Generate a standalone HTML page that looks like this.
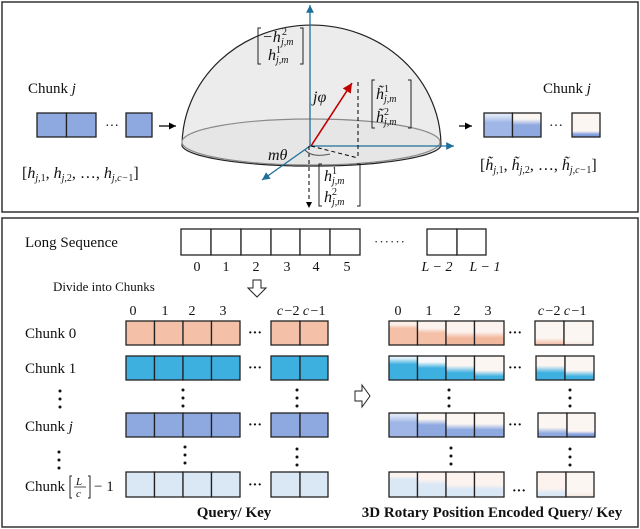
<!DOCTYPE html>
<html><head><meta charset="utf-8"><style>
html,body{margin:0;padding:0;background:#fff}
svg{display:block}
text{font-family:"Liberation Serif",serif;fill:#111}
.i{font-style:italic}
</style></head><body>
<svg width="640" height="529" viewBox="0 0 640 529" xmlns="http://www.w3.org/2000/svg">
<defs>
<marker id="ab" markerWidth="8" markerHeight="8" refX="6" refY="3" orient="auto"><path d="M0,0 L6,3 L0,6 z" fill="#1f6f9a"/></marker>
<marker id="ar" markerWidth="8" markerHeight="8" refX="6" refY="3" orient="auto"><path d="M0,0 L6,3 L0,6 z" fill="#c00000"/></marker>
<marker id="ak" markerWidth="8" markerHeight="8" refX="6" refY="3" orient="auto"><path d="M0,0 L6,3 L0,6 z" fill="#000"/></marker>
<linearGradient id="o1" x1="0" y1="0" x2="0" y2="1"><stop offset="0.15" stop-color="#fcefe8"/><stop offset="0.3" stop-color="#f4c0a8"/></linearGradient>
<linearGradient id="o2" x1="0" y1="0" x2="0" y2="1"><stop offset="0.3" stop-color="#fcf3ee"/><stop offset="0.5" stop-color="#f4c0a8"/></linearGradient>
<linearGradient id="o3" x1="0" y1="0" x2="0" y2="1"><stop offset="0.45" stop-color="#fcf3ee"/><stop offset="0.7" stop-color="#f2b89e"/></linearGradient>
<linearGradient id="o4" x1="0" y1="0" x2="0" y2="1"><stop offset="0.7" stop-color="#fcf6f2"/><stop offset="1" stop-color="#f2b89e"/></linearGradient>
<linearGradient id="b1" x1="0" y1="0" x2="0" y2="1"><stop offset="0.1" stop-color="#dff0f9"/><stop offset="0.35" stop-color="#3eb0e0"/></linearGradient>
<linearGradient id="b2" x1="0" y1="0" x2="0" y2="1"><stop offset="0.25" stop-color="#f5f9fb"/><stop offset="0.5" stop-color="#3eb0e0"/></linearGradient>
<linearGradient id="b3" x1="0" y1="0" x2="0" y2="1"><stop offset="0.4" stop-color="#fcf6f2"/><stop offset="0.7" stop-color="#3eb0e0"/></linearGradient>
<linearGradient id="b4" x1="0" y1="0" x2="0" y2="1"><stop offset="0.6" stop-color="#fcf6f2"/><stop offset="0.85" stop-color="#3eb0e0"/></linearGradient>
<linearGradient id="p1" x1="0" y1="0" x2="0" y2="1"><stop offset="0.1" stop-color="#dde6f7"/><stop offset="0.4" stop-color="#9fb6e6"/></linearGradient>
<linearGradient id="p2" x1="0" y1="0" x2="0" y2="1"><stop offset="0.25" stop-color="#fcf6f2"/><stop offset="0.5" stop-color="#8ea9e0"/></linearGradient>
<linearGradient id="p3" x1="0" y1="0" x2="0" y2="1"><stop offset="0.45" stop-color="#fcf6f2"/><stop offset="0.7" stop-color="#8ea9e0"/></linearGradient>
<linearGradient id="p4" x1="0" y1="0" x2="0" y2="1"><stop offset="0.6" stop-color="#fcf6f2"/><stop offset="0.85" stop-color="#8ea9e0"/></linearGradient>
<linearGradient id="p5" x1="0" y1="0" x2="0" y2="1"><stop offset="0.75" stop-color="#fcf6f2"/><stop offset="0.9" stop-color="#7e9ddc"/></linearGradient>
<linearGradient id="l1" x1="0" y1="0" x2="0" y2="1"><stop offset="0.15" stop-color="#fcf3ee"/><stop offset="0.3" stop-color="#dae8f5"/></linearGradient>
<linearGradient id="l2" x1="0" y1="0" x2="0" y2="1"><stop offset="0.3" stop-color="#fcf3ee"/><stop offset="0.5" stop-color="#dae8f5"/></linearGradient>
<linearGradient id="l3" x1="0" y1="0" x2="0" y2="1"><stop offset="0.5" stop-color="#fcf3ee"/><stop offset="0.7" stop-color="#dae8f5"/></linearGradient>
<linearGradient id="l4" x1="0" y1="0" x2="0" y2="1"><stop offset="0.65" stop-color="#fcf3ee"/><stop offset="0.85" stop-color="#dae8f5"/></linearGradient>
<linearGradient id="w" x1="0" y1="0" x2="0" y2="1"><stop offset="0.8" stop-color="#fcf6f2"/><stop offset="1" stop-color="#f5e6de"/></linearGradient>
</defs>

<rect x="2" y="2" width="636" height="210" fill="none" stroke="#333" stroke-width="1.5"/>
<rect x="2" y="218" width="636" height="309" fill="none" stroke="#333" stroke-width="1.5"/>

<!-- hemisphere -->
<path d="M182,146 A129.5,121 0 0 1 441,146 A130,22 0 0 1 182,146 z" fill="#ececec" stroke="#222" stroke-width="1.2"/>
<ellipse cx="311" cy="142" rx="129" ry="23" fill="#e6e6e6" stroke="#8a8a8a" stroke-width="1.2"/>
<line x1="310" y1="146" x2="310" y2="5" stroke="#1f6f9a" stroke-width="1.3" marker-end="url(#ab)"/>
<line x1="310" y1="146" x2="454" y2="146" stroke="#1f6f9a" stroke-width="1.3" marker-end="url(#ab)"/>
<line x1="310" y1="146" x2="262" y2="180" stroke="#1f6f9a" stroke-width="1.3" marker-end="url(#ab)"/>
<line x1="309" y1="146" x2="309" y2="208" stroke="#000" stroke-width="1" stroke-dasharray="4,3" marker-end="url(#ak)"/>
<line x1="358" y1="82" x2="358" y2="158" stroke="#000" stroke-width="1" stroke-dasharray="4,3"/>
<line x1="311" y1="146" x2="358" y2="158" stroke="#000" stroke-width="1" stroke-dasharray="4,3"/>
<path d="M305,150 Q312,158 330,154" fill="none" stroke="#555" stroke-width="1"/>
<line x1="311" y1="146" x2="352" y2="83" stroke="#c00000" stroke-width="1.6" marker-end="url(#ar)"/>

<g font-size="16">
<path d="M261,28 h-3 v36 h3 M300,28 h3 v36 h-3" fill="none" stroke="#222"/>
<text x="262" y="42" class="i">−h</text><text x="282" y="35" font-size="10">2</text><text x="281" y="45" font-size="10" class="i">j,m</text>
<text x="268" y="60" class="i">h</text><text x="276" y="53" font-size="10">1</text><text x="276" y="63" font-size="10" class="i">j,m</text>
<text x="313" y="102" class="i" font-size="16">jφ</text>
<path d="M375,80 h-3 v48 h3 M408,80 h3 v48 h-3" fill="none" stroke="#222"/>
<text x="376" y="99" class="i">h̃</text><text x="384" y="92" font-size="10">1</text><text x="384" y="102" font-size="10" class="i">j,m</text>
<text x="376" y="122" class="i">h̃</text><text x="384" y="115" font-size="10">2</text><text x="384" y="125" font-size="10" class="i">j,m</text>
<text x="268" y="160" class="i" font-size="16">mθ</text>
<path d="M322,164 h-3 v42 h3 M357,164 h3 v42 h-3" fill="none" stroke="#222"/>
<text x="324" y="181" class="i">h</text><text x="332" y="174" font-size="10">1</text><text x="332" y="184" font-size="10" class="i">j,m</text>
<text x="324" y="202" class="i">h</text><text x="332" y="195" font-size="10">2</text><text x="332" y="205" font-size="10" class="i">j,m</text>
</g>

<text x="28" y="93" font-size="15">Chunk <tspan class="i">j</tspan></text>
<rect x="37" y="113" width="29.5" height="24" fill="#8ea9e0" stroke="#222" stroke-width="1.3"/>
<rect x="66.5" y="113" width="29.5" height="24" fill="#8ea9e0" stroke="#222" stroke-width="1.3"/>
<text x="105" y="130" font-size="14">···</text>
<rect x="126" y="113" width="26" height="24" fill="#8ea9e0" stroke="#222" stroke-width="1.3"/>
<line x1="159" y1="126" x2="176" y2="126" stroke="#000" stroke-width="1.2" marker-end="url(#ak)"/>
<text x="22" y="178" font-size="16">[<tspan class="i">h</tspan><tspan font-size="10" class="i" dy="3">j,</tspan><tspan font-size="10" dy="0">1</tspan><tspan dy="-3">, </tspan><tspan class="i">h</tspan><tspan font-size="10" class="i" dy="3">j,</tspan><tspan font-size="10">2</tspan><tspan dy="-3">, …, </tspan><tspan class="i">h</tspan><tspan font-size="10" class="i" dy="3">j,c−</tspan><tspan font-size="10">1</tspan><tspan dy="-3">]</tspan></text>

<text x="543" y="93" font-size="15">Chunk <tspan class="i">j</tspan></text>
<line x1="459" y1="126" x2="472" y2="126" stroke="#000" stroke-width="1.2" marker-end="url(#ak)"/>
<rect x="484" y="113" width="28.5" height="24" fill="url(#p1)" stroke="#222" stroke-width="1.3"/>
<rect x="512.5" y="113" width="28.5" height="24" fill="url(#p2)" stroke="#222" stroke-width="1.3"/>
<text x="549" y="130" font-size="14">···</text>
<rect x="572" y="113" width="28" height="24" fill="url(#p5)" stroke="#222" stroke-width="1.3"/>
<text x="480" y="170" font-size="16">[<tspan class="i">h̃</tspan><tspan font-size="10" class="i" dy="3">j,</tspan><tspan font-size="10">1</tspan><tspan dy="-3">, </tspan><tspan class="i">h̃</tspan><tspan font-size="10" class="i" dy="3">j,</tspan><tspan font-size="10">2</tspan><tspan dy="-3">, …, </tspan><tspan class="i">h̃</tspan><tspan font-size="10" class="i" dy="3">j,c−</tspan><tspan font-size="10">1</tspan><tspan dy="-3">]</tspan></text>

<text x="25" y="247" font-size="15">Long Sequence</text>
<g fill="#fff" stroke="#222" stroke-width="1.3">
<rect x="181" y="229" width="30" height="26"/><rect x="211" y="229" width="30" height="26"/><rect x="241" y="229" width="30" height="26"/>
<rect x="271" y="229" width="29" height="26"/><rect x="300" y="229" width="30" height="26"/><rect x="330" y="229" width="30" height="26"/>
<rect x="427" y="229" width="30" height="26"/><rect x="457" y="229" width="29" height="26"/>
</g>
<text x="374" y="246" font-size="13" letter-spacing="1">······</text>
<g font-size="14" text-anchor="middle">
<text x="197" y="271">0</text><text x="226" y="271">1</text><text x="256" y="271">2</text><text x="287" y="271">3</text><text x="316" y="271">4</text><text x="347" y="271">5</text>
<text x="437" y="271" class="i">L − 2</text><text x="485" y="271" class="i">L − 1</text>
</g>
<text x="53" y="291" font-size="13">Divide  into Chunks</text>
<path d="M253,280 h8 v8 h5 l-9,9 l-9,-9 h5 z" fill="#fff" stroke="#222" stroke-width="1"/>

<g font-size="14" text-anchor="middle">
<text x="133" y="315">0</text><text x="165" y="315">1</text><text x="192" y="315">2</text><text x="223" y="315">3</text>
<text x="280" y="315" class="i">c</text><text x="292" y="315">−2</text><text x="306" y="315" class="i">c</text><text x="318" y="315">−1</text>
<text x="398" y="315">0</text><text x="429" y="315">1</text><text x="457" y="315">2</text><text x="488" y="315">3</text>
<text x="541" y="315" class="i">c</text><text x="553" y="315">−2</text><text x="567" y="315" class="i">c</text><text x="579" y="315">−1</text>
</g>

<g font-size="15">
<text x="25" y="338">Chunk  0</text>
<text x="25" y="373">Chunk  1</text>
<text x="25" y="431">Chunk  <tspan class="i">j</tspan></text>
<text x="25" y="491">Chunk</text>
<path d="M72,476 h-2 v22 h2 M88,476 h2 v22 h-2" fill="none" stroke="#222"/>
<text x="76" y="485" font-size="11" class="i">L</text><line x1="74" y1="487" x2="86" y2="487" stroke="#222" stroke-width="0.8"/><text x="76" y="497" font-size="11" class="i">c</text>
<text x="94" y="491">− 1</text>
</g>
<g fill="#111">
<circle cx="60" cy="391" r="1.5"/><circle cx="60" cy="399" r="1.5"/><circle cx="60" cy="407" r="1.5"/>
<circle cx="59" cy="452" r="1.5"/><circle cx="59" cy="460" r="1.5"/><circle cx="59" cy="468" r="1.5"/>
<circle cx="183" cy="390" r="1.5"/><circle cx="183" cy="398" r="1.5"/><circle cx="183" cy="406" r="1.5"/>
<circle cx="297" cy="390" r="1.5"/><circle cx="297" cy="398" r="1.5"/><circle cx="297" cy="406" r="1.5"/>
<circle cx="185" cy="447" r="1.5"/><circle cx="185" cy="455" r="1.5"/><circle cx="185" cy="463" r="1.5"/>
<circle cx="297" cy="449" r="1.5"/><circle cx="297" cy="457" r="1.5"/><circle cx="297" cy="465" r="1.5"/>
<circle cx="449" cy="390" r="1.5"/><circle cx="449" cy="398" r="1.5"/><circle cx="449" cy="406" r="1.5"/>
<circle cx="570" cy="390" r="1.5"/><circle cx="570" cy="398" r="1.5"/><circle cx="570" cy="406" r="1.5"/>
<circle cx="451" cy="448" r="1.5"/><circle cx="451" cy="456" r="1.5"/><circle cx="451" cy="464" r="1.5"/>
<circle cx="570" cy="449" r="1.5"/><circle cx="570" cy="457" r="1.5"/><circle cx="570" cy="465" r="1.5"/>
</g>

<g stroke="#222" stroke-width="1.3">
<g fill="#f4c0a8"><rect x="126" y="321" width="28.5" height="24"/><rect x="154.5" y="321" width="28.5" height="24"/><rect x="183" y="321" width="28.5" height="24"/><rect x="211.5" y="321" width="28.5" height="24"/><rect x="271" y="321" width="29" height="24"/><rect x="300" y="321" width="28" height="24"/></g>
<g fill="#3eb0e0"><rect x="126" y="356" width="28.5" height="24"/><rect x="154.5" y="356" width="28.5" height="24"/><rect x="183" y="356" width="28.5" height="24"/><rect x="211.5" y="356" width="28.5" height="24"/><rect x="271" y="356" width="29" height="24"/><rect x="300" y="356" width="28" height="24"/></g>
<g fill="#8ea9e0"><rect x="126" y="413" width="28.5" height="24"/><rect x="154.5" y="413" width="28.5" height="24"/><rect x="183" y="413" width="28.5" height="24"/><rect x="211.5" y="413" width="28.5" height="24"/><rect x="271" y="413" width="29" height="24"/><rect x="300" y="413" width="28" height="24"/></g>
<g fill="#dae8f5"><rect x="126" y="472" width="28.5" height="25"/><rect x="154.5" y="472" width="28.5" height="25"/><rect x="183" y="472" width="28.5" height="25"/><rect x="211.5" y="472" width="28.5" height="25"/><rect x="271" y="472" width="29" height="25"/><rect x="300" y="472" width="28" height="25"/></g>
</g>
<g font-size="14" font-weight="bold">
<text x="248" y="337">···</text><text x="248" y="372">···</text><text x="248" y="429">···</text><text x="248" y="489">···</text>
<text x="508" y="337">···</text><text x="508" y="372">···</text><text x="508" y="429">···</text><text x="512" y="495">···</text>
</g>

<path d="M355,391 h7 v-6 l8,11 l-8,11 v-6 h-7 z" fill="#fff" stroke="#222" stroke-width="1"/>

<g stroke="#222" stroke-width="1.3">
<rect x="389" y="321" width="28.5" height="24" fill="url(#o1)"/><rect x="417.5" y="321" width="28.5" height="24" fill="url(#o2)"/><rect x="446" y="321" width="28.5" height="24" fill="url(#o3)"/><rect x="474.5" y="321" width="29.5" height="24" fill="url(#o3)"/><rect x="535" y="321" width="29" height="24" fill="url(#o4)"/><rect x="564" y="321" width="29" height="24" fill="url(#w)"/>
<rect x="389" y="356" width="28.5" height="24" fill="url(#b1)"/><rect x="417.5" y="356" width="28.5" height="24" fill="url(#b2)"/><rect x="446" y="356" width="28.5" height="24" fill="url(#b3)"/><rect x="474.5" y="356" width="29.5" height="24" fill="url(#b4)"/><rect x="536" y="356" width="29" height="24" fill="url(#b3)"/><rect x="565" y="356" width="29" height="24" fill="url(#b4)"/>
<rect x="389" y="413" width="28.5" height="24" fill="url(#p1)"/><rect x="417.5" y="413" width="28.5" height="24" fill="url(#p2)"/><rect x="446" y="413" width="28.5" height="24" fill="url(#p3)"/><rect x="474.5" y="413" width="29.5" height="24" fill="url(#p3)"/><rect x="538" y="413" width="29" height="24" fill="url(#p4)"/><rect x="567" y="413" width="28" height="24" fill="url(#p5)"/>
<rect x="389" y="472" width="28.5" height="25" fill="url(#l1)"/><rect x="417.5" y="472" width="28.5" height="25" fill="url(#l2)"/><rect x="446" y="472" width="28.5" height="25" fill="url(#l3)"/><rect x="474.5" y="472" width="29.5" height="25" fill="url(#l3)"/><rect x="537" y="472" width="29" height="25" fill="url(#l4)"/><rect x="566" y="472" width="28" height="25" fill="url(#w)"/>
</g>

<text x="234" y="517" font-size="15" font-weight="bold" text-anchor="middle">Query/ Key</text>
<text x="492" y="517" font-size="15" font-weight="bold" text-anchor="middle">3D Rotary Position Encoded Query/ Key</text>
</svg>
</body></html>
